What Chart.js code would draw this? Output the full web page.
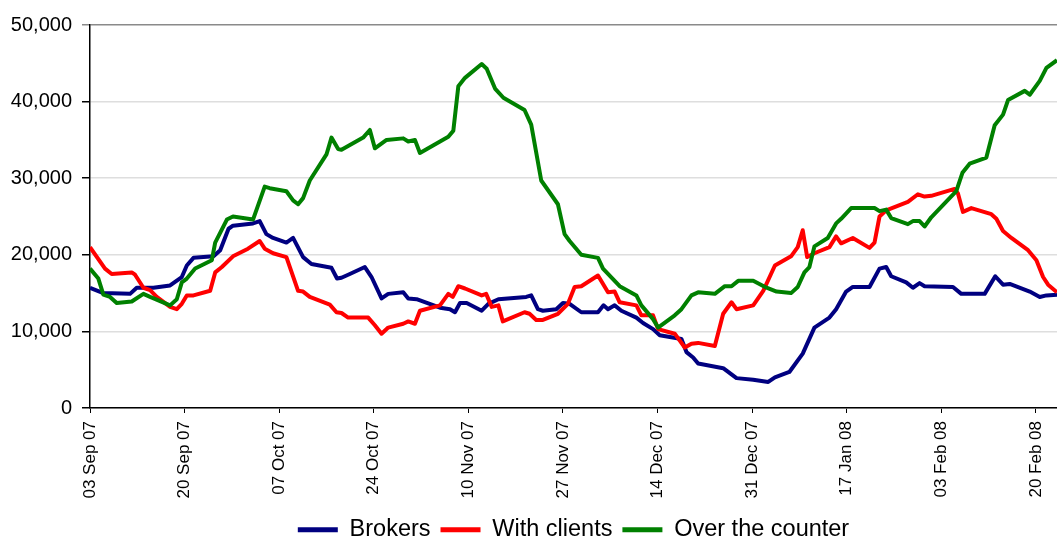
<!DOCTYPE html>
<html>
<head>
    <title>Brokers / With clients / Over the counter</title>
    <script src="https://cdn.jsdelivr.net/npm/chart.js"></script>
    <style>
      body { margin: 0; background: #fff; }
      #wrap { width: 1057px; height: 540px; position: relative; }
    </style>
</head>
<body>
  <div id="wrap"><canvas id="lineChart"></canvas></div>
  <script>
    // x = days since 03 Sep 07
    const tickDays = [0, 17, 34, 51, 68, 85, 102, 119, 136, 153, 170];
    const tickLabels = ['03 Sep 07', '20 Sep 07', '07 Oct 07', '24 Oct 07', '10 Nov 07', '27 Nov 07',
                        '14 Dec 07', '31 Dec 07', '17 Jan 08', '03 Feb 08', '20 Feb 08'];
    const yTicks = [0, 10000, 20000, 30000, 40000, 50000];

    const brokersX = [0, 2.4, 7.2, 8.4, 11.4, 14.4, 16.5, 17.4, 18.6, 22.2, 23.4, 24.9, 25.7, 29.3, 30.5, 31.7,
      32.9, 35.3, 36.5, 38.3, 39.8, 43.4, 44.4, 45.2, 46.7, 49.4, 50.6, 52.4, 53.6, 56.3, 57.2, 58.7, 62.9,
      64.7, 65.6, 66.5, 67.7, 70.4, 71.6, 73.4, 78.4, 79.3, 80.5, 81.4, 83.8, 85.0, 86.2, 88.3, 91.3, 92.3,
      93.1, 94.3, 95.5, 98.2, 99.4, 101.2, 102.4, 106.3, 107.2, 108.4, 109.3, 113.8, 116.2, 119.2, 121.9,
      123.1, 125.7, 128.1, 130.2, 132.9, 134.1, 135.9, 137.1, 140.1, 141.9, 143.1, 144.0, 146.7, 147.9,
      149.1, 150.0, 155.1, 156.6, 160.8, 162.7, 164.1, 165.3, 168.9, 170.7, 171.9, 173.8];
    const brokersY = [15700, 15000, 14900, 15700, 15700, 16000, 17100, 18600, 19600, 19800, 20600, 23400, 23800,
      24100, 24400, 22700, 22200, 21600, 22200, 19700, 18800, 18300, 16900, 17000, 17500, 18400, 17100, 14300,
      14900, 15100, 14300, 14200, 13100, 12900, 12500, 13700, 13700, 12700, 13600, 14200, 14500, 14700, 12900,
      12700, 12900, 13700, 13600, 12500, 12500, 13400, 12900, 13400, 12700, 11800, 11100, 10300, 9500, 9000,
      7300, 6600, 5800, 5200, 3900, 3700, 3400, 4000, 4700, 7100, 10500, 11800, 12900, 15200, 15800, 15800,
      18200, 18400, 17200, 16400, 15700, 16300, 15900, 15800, 14900, 14900, 17200, 16100, 16200, 15200, 14500,
      14700, 14800];

    const clientsX = [0, 2.7, 3.9, 7.5, 8.1, 9.6, 10.8, 12.0, 14.4, 15.6, 16.5, 17.4, 18.6, 21.6, 22.5, 23.7,
      25.7, 28.4, 30.5, 31.4, 32.9, 35.3, 37.4, 38.3, 39.5, 43.1, 44.3, 45.2, 46.4, 50.0, 51.2, 52.4, 53.6,
      56.3, 57.2, 58.4, 59.3, 62.9, 64.4, 65.2, 66.2, 67.4, 70.4, 71.2, 72.2, 73.4, 74.2, 78.1, 79.0, 80.2,
      81.4, 84.1, 85.9, 87.1, 88.3, 91.3, 93.1, 94.3, 95.2, 98.2, 99.1, 101.2, 102.1, 105.1, 106.9, 108.1,
      109.3, 112.3, 113.8, 115.3, 116.2, 119.2, 121.0, 123.1, 126.0, 127.2, 128.1, 128.9, 130.2, 132.9, 134.1,
      135.0, 137.1, 140.1, 141.0, 141.9, 143.1, 147.0, 148.8, 150.0, 151.2, 155.4, 156.0, 156.9, 158.4, 162.0,
      162.9, 164.1, 165.6, 168.6, 170.1, 171.3, 172.2, 173.8];
    const clientsY = [21000, 18200, 17500, 17700, 17400, 15700, 15400, 14500, 13200, 12900, 13600, 14700, 14700,
      15300, 17700, 18400, 19800, 20800, 21800, 20800, 20200, 19700, 15300, 15200, 14500, 13500, 12500, 12400,
      11800, 11800, 10800, 9700, 10500, 11000, 11300, 11000, 12700, 13400, 14900, 14500, 15900, 15600, 14700,
      14900, 13200, 13400, 11300, 12500, 12300, 11500, 11500, 12300, 13600, 15800, 15900, 17300, 15100, 15200,
      13800, 13400, 12100, 12100, 10300, 9700, 7900, 8400, 8500, 8100, 12300, 13800, 12900, 13400, 15300, 18600,
      19800, 21000, 23200, 19700, 20200, 21000, 22400, 21500, 22200, 20900, 21600, 25000, 25800, 26900, 27900,
      27600, 27700, 28600, 28000, 25600, 26100, 25300, 24700, 23100, 22200, 20600, 19300, 17100, 16100, 15100];

    const otcX = [0, 1.5, 2.4, 3.6, 4.8, 7.5, 9.6, 10.8, 14.4, 15.6, 16.5, 17.4, 18.9, 21.9, 22.5, 24.6, 25.7,
      29.3, 31.4, 32.3, 35.3, 36.5, 37.4, 38.3, 39.5, 42.5, 43.4, 44.6, 45.2, 49.1, 50.3, 51.2, 53.3, 56.3,
      57.2, 58.4, 59.3, 64.4, 65.3, 66.2, 67.4, 70.4, 71.3, 72.8, 74.3, 78.1, 79.3, 81.1, 84.1, 85.3, 86.2,
      88.3, 91.3, 92.2, 95.2, 98.2, 99.1, 101.2, 102.1, 105.1, 106.3, 108.1, 109.3, 112.3, 114.1, 115.3, 116.5,
      119.2, 121.6, 123.4, 126.0, 127.2, 128.4, 129.3, 130.2, 132.6, 134.1, 135.0, 136.8, 141.0, 141.9, 143.1,
      144.0, 147.0, 147.9, 149.1, 150.0, 151.2, 155.7, 156.8, 158.1, 161.1, 162.6, 164.1, 165.0, 168.0, 168.9,
      170.7, 171.9, 173.8];
    const otcY = [18200, 16900, 14800, 14500, 13700, 13900, 14900, 14500, 13400, 14200, 16400, 16900, 18200,
      19300, 21600, 24600, 25000, 24600, 28900, 28700, 28300, 27100, 26600, 27400, 29700, 33100, 35300, 33800,
      33700, 35300, 36300, 33900, 35000, 35200, 34800, 35000, 33300, 35400, 36200, 42000, 43100, 44900, 44300,
      41700, 40500, 38900, 37000, 29700, 26600, 22700, 21800, 20000, 19600, 18200, 15900, 14700, 13400, 11600,
      10500, 12100, 12900, 14700, 15100, 14900, 15900, 15900, 16600, 16600, 15700, 15200, 15000, 15800, 17700,
      18400, 21100, 22200, 24100, 24700, 26100, 26100, 25700, 25900, 24800, 24000, 24400, 24400, 23700, 24900,
      28300, 30700, 31900, 32700, 36900, 38300, 40200, 41400, 40900, 42700, 44400, 45400];

    const pairs = (xs, ys) => xs.map((x, i) => ({ x: x, y: ys[i] }));
    const fontFamily = '"Liberation Sans", Arial, sans-serif';

    new Chart(document.getElementById('lineChart'), {
      type: 'line',
      data: {
        datasets: [
          { label: 'Brokers', data: pairs(brokersX, brokersY), borderColor: '#000080', backgroundColor: '#000080', order: 2 },
          { label: 'With clients', data: pairs(clientsX, clientsY), borderColor: '#ff0000', backgroundColor: '#ff0000', order: 1 },
          { label: 'Over the counter', data: pairs(otcX, otcY), borderColor: '#008000', backgroundColor: '#008000', order: 0 }
        ]
      },
      options: {
        responsive: true,
        maintainAspectRatio: false,
        animation: false,
        layout: { padding: { top: 25, left: 0, right: 0, bottom: 0 } },
        elements: {
          line: { borderWidth: 4, tension: 0, borderJoinStyle: 'round' },
          point: { radius: 0, hoverRadius: 0 }
        },
        plugins: {
          tooltip: { enabled: false },
          legend: {
            position: 'bottom',
            fullSize: false,
            maxHeight: 32,
            labels: {
              boxWidth: 40,
              boxHeight: 5,
              padding: 10,
              color: '#000',
              font: { family: fontFamily, size: 23.5 },
              sort: (a, b) => a.datasetIndex - b.datasetIndex,
              generateLabels: chart => Chart.defaults.plugins.legend.labels.generateLabels(chart)
                .map(item => Object.assign(item, { lineWidth: 0 }))
            }
          }
        },
        scales: {
          x: {
            type: 'linear',
            min: 0,
            max: 173.8,
            afterBuildTicks: s => { s.ticks = tickDays.map(v => ({ value: v })); },
            afterFit: s => { s.height = 100; s.paddingLeft = 0; s.paddingRight = 0; },
            border: { color: '#000', width: 1.5 },
            grid: { drawOnChartArea: false, tickLength: 5, tickColor: '#000' },
            ticks: {
              autoSkip: false,
              minRotation: 90,
              maxRotation: 90,
              padding: 8,
              color: '#000',
              font: { family: fontFamily, size: 17 },
              callback: v => tickLabels[tickDays.indexOf(v)]
            }
          },
          y: {
            min: 0,
            max: 50000,
            afterBuildTicks: s => { s.ticks = yTicks.map(v => ({ value: v })); },
            afterFit: s => { s.width = 90; s.paddingTop = 0; s.paddingBottom = 0; },
            border: { color: '#000', width: 1.5 },
            grid: {
              color: c => c.tick && c.tick.value === 50000 ? '#8a8a8a' : '#dedede',
              tickColor: c => c.tick && c.tick.value === 50000 ? '#8a8a8a' : '#000',
              tickLength: 8,
              lineWidth: 1.5
            },
            ticks: {
              padding: 10,
              color: '#000',
              font: { family: fontFamily, size: 20 },
              callback: v => v.toLocaleString('en-US')
            }
          }
        }
      }
    });
  </script>
</body>
</html>
